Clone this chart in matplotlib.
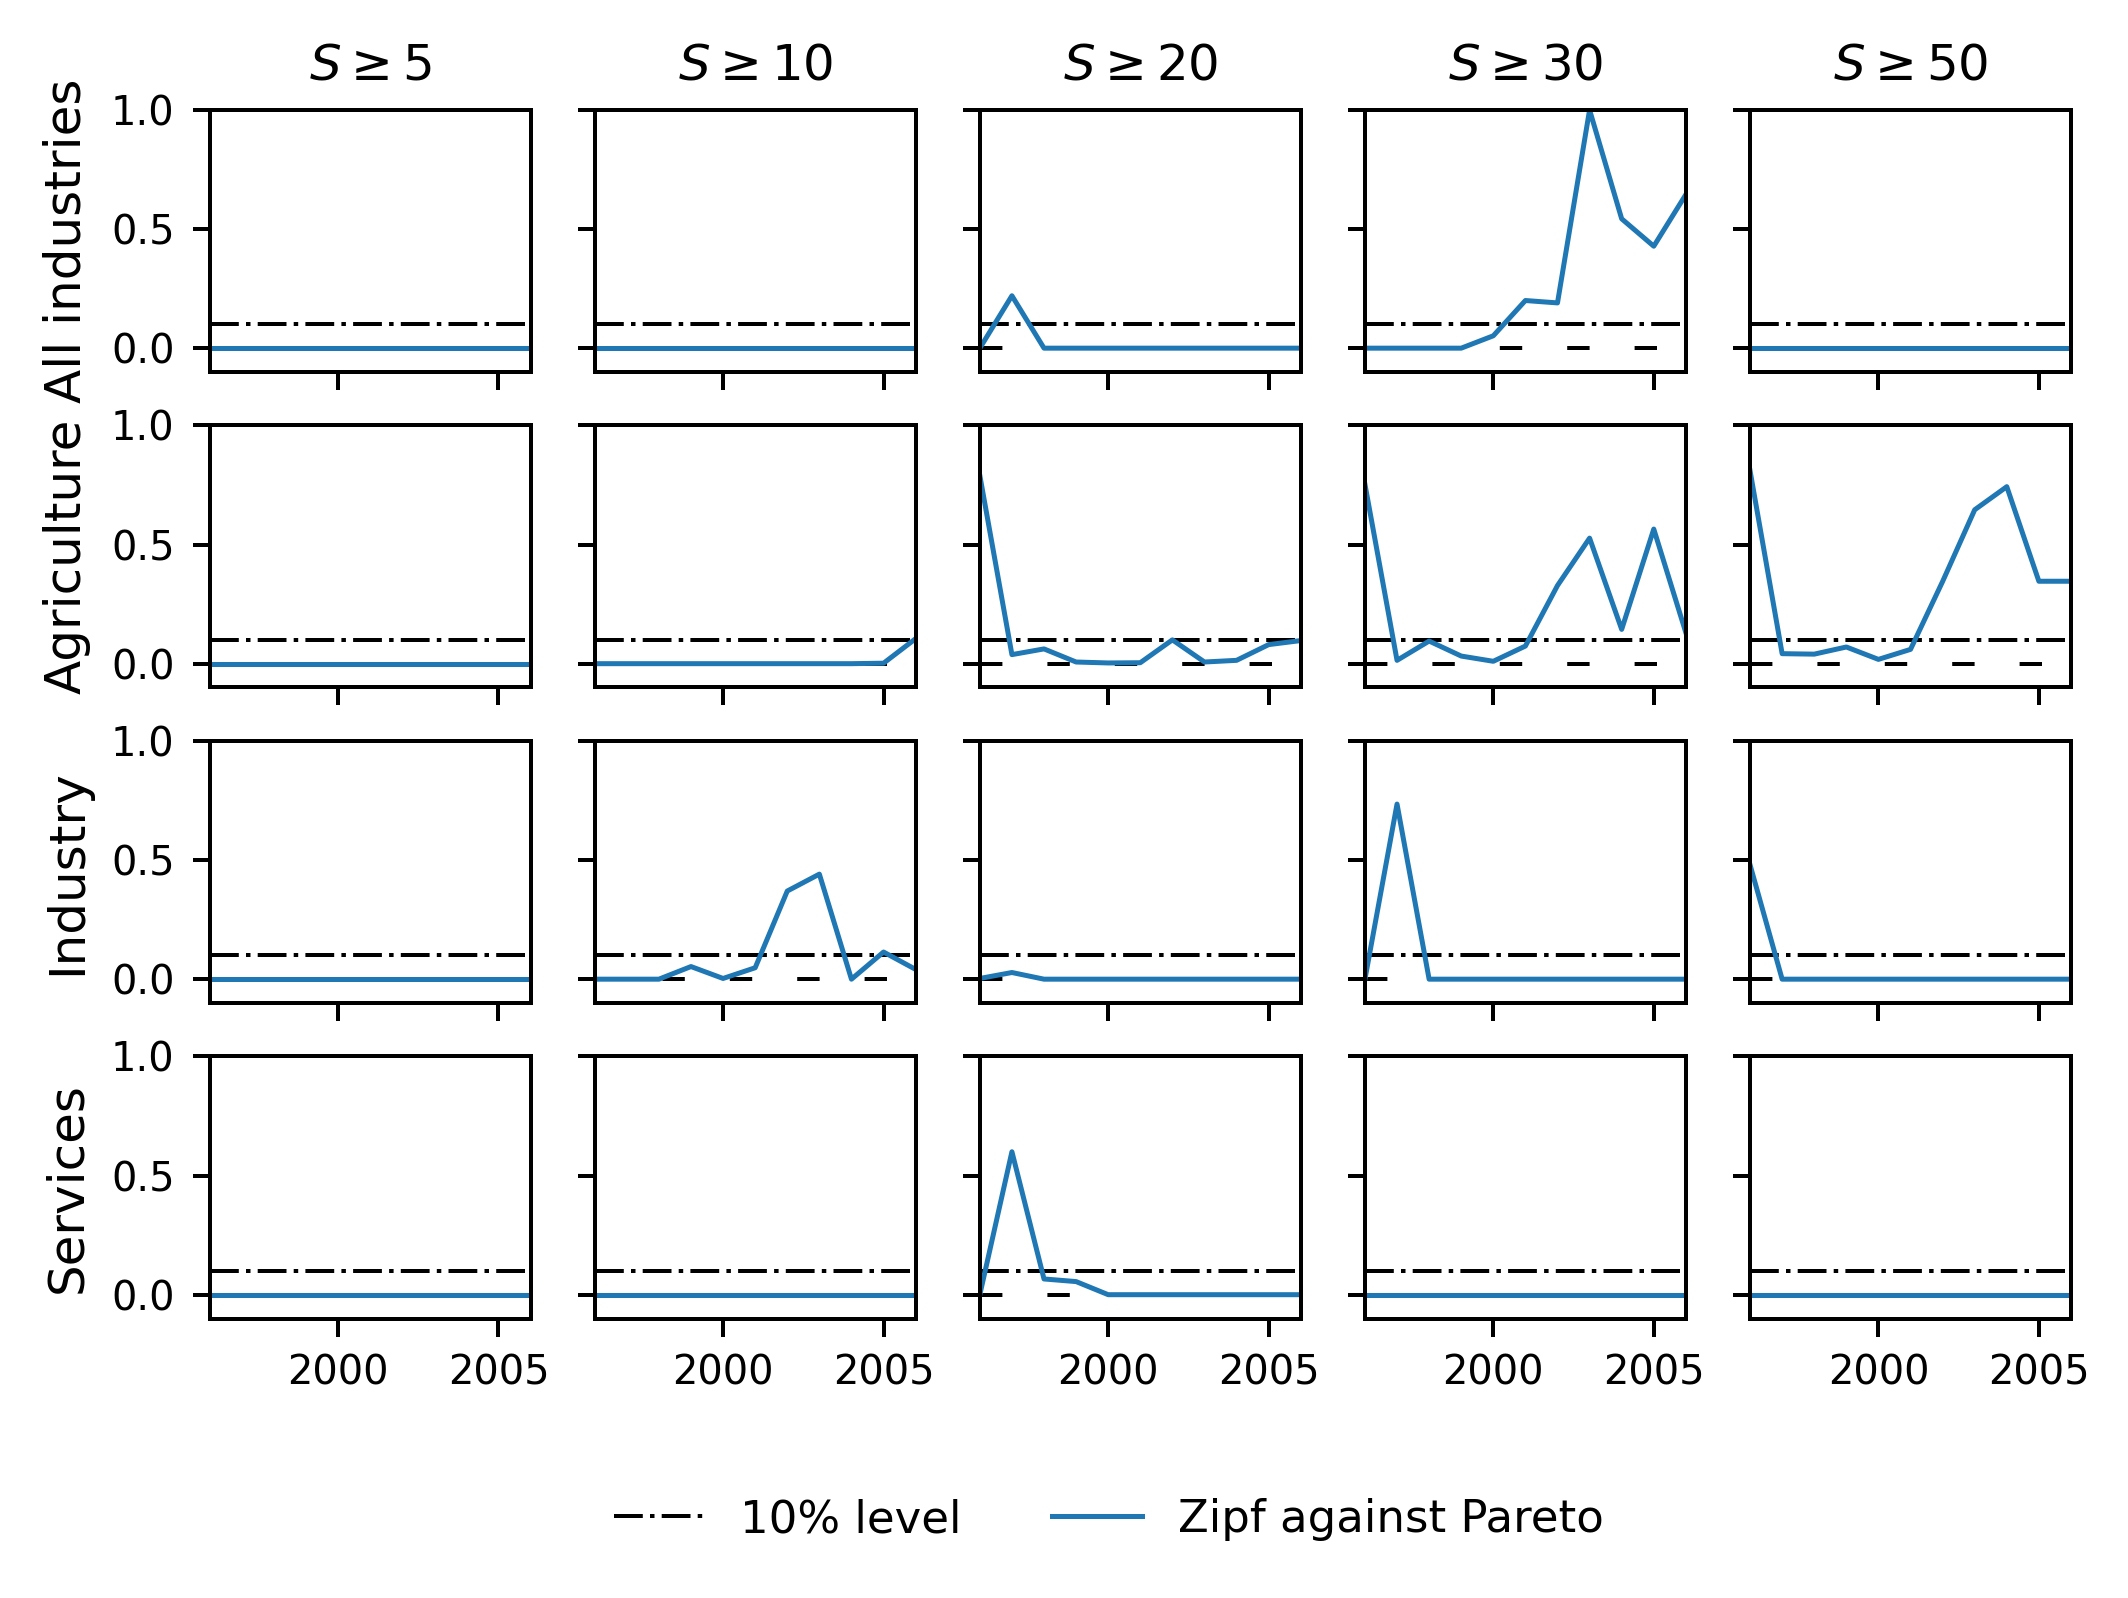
import matplotlib
matplotlib.use("Agg")
import matplotlib.pyplot as plt

years = list(range(1996, 2007))
thresholds = [5, 10, 20, 30, 50]
sectors = ["All industries", "Agriculture", "Industry", "Services"]
level = 0.1

# p-values of the Zipf-vs-Pareto test, one list per threshold (S>=5 ... S>=50)
all_industries = [
    [0.0] * 11,
    [0.0] * 11,
    [0.0, 0.22, 0.0, 0.0, 0.0, 0.0, 0.0, 0.0, 0.0, 0.0, 0.0],
    [0.0, 0.0, 0.0, 0.0, 0.052, 0.20, 0.19, 1.0, 0.543, 0.428, 0.645],
    [0.0] * 11,
]
agriculture = [
    [0.0] * 11,
    [0.0, 0.0, 0.0, 0.0, 0.0, 0.0, 0.0, 0.0, 0.0, 0.002, 0.105],
    [0.79, 0.038, 0.062, 0.007, 0.003, 0.004, 0.10, 0.007, 0.014, 0.08, 0.097],
    [0.753, 0.014, 0.095, 0.032, 0.010, 0.074, 0.328, 0.527, 0.144, 0.565, 0.13],
    [0.81, 0.042, 0.040, 0.070, 0.018, 0.060, 0.345, 0.646, 0.743, 0.346, 0.346],
]
industry = [
    [0.0] * 11,
    [0.0, 0.0, 0.0, 0.053, 0.003, 0.048, 0.37, 0.441, 0.0, 0.114, 0.041],
    [0.003, 0.028, 0.0, 0.0, 0.0, 0.0, 0.0, 0.0, 0.0, 0.0, 0.0],
    [0.0, 0.735, 0.0, 0.0, 0.0, 0.0, 0.0, 0.0, 0.0, 0.0, 0.0],
    [0.48, 0.0, 0.0, 0.0, 0.0, 0.0, 0.0, 0.0, 0.0, 0.0, 0.0],
]
services = [
    [0.0] * 11,
    [0.0] * 11,
    [0.0, 0.60, 0.066, 0.055, 0.0, 0.0, 0.0, 0.0, 0.0, 0.0, 0.0],
    [0.0] * 11,
    [0.0] * 11,
]
rows = [all_industries, agriculture, industry, services]

fig, axes = plt.subplots(4, 5, sharex=True, sharey=True,
                         figsize=(2128 / 360, 1598 / 360), dpi=360)
fig.subplots_adjust(left=0.0985, right=0.9732, top=0.9312, bottom=0.1749,
                    wspace=0.2, hspace=0.204)

# black reference lines: thin, with dashes stretched a bit
dashdot = (0, (7.2, 1.8, 1.125, 1.8))
loose = (0, (5.6, 11.25))

for i, (sector, data) in enumerate(zip(sectors, rows)):
    for j, s in enumerate(thresholds):
        ax = axes[i, j]
        ax.axhline(level, color="k", ls=dashdot, lw=0.8, label="10% level")
        ax.axhline(0, color="k", ls=loose, lw=0.8)
        ax.plot(years, data[j], color="#1f77b4", lw=1.0, label="Zipf against Pareto")
        ax.tick_params(labelsize=8)
        if i == 0:
            ax.set_title(r"$S \geq %d$" % s, fontsize=10)
        if j == 0:
            ax.set_ylabel(sector, fontsize=10)

axes[0, 0].set_xlim(1996, 2006)
axes[0, 0].set_ylim(-0.1, 1.0)
axes[0, 0].set_xticks([2000, 2005])
axes[0, 0].set_yticks([0.0, 0.5, 1.0])

handles, labels = axes[0, 0].get_legend_handles_labels()
fig.legend(handles, labels, loc="center", ncol=2, frameon=False, fontsize=9,
           bbox_to_anchor=(0.521, 0.049))

fig.savefig("out.png", dpi=360)
